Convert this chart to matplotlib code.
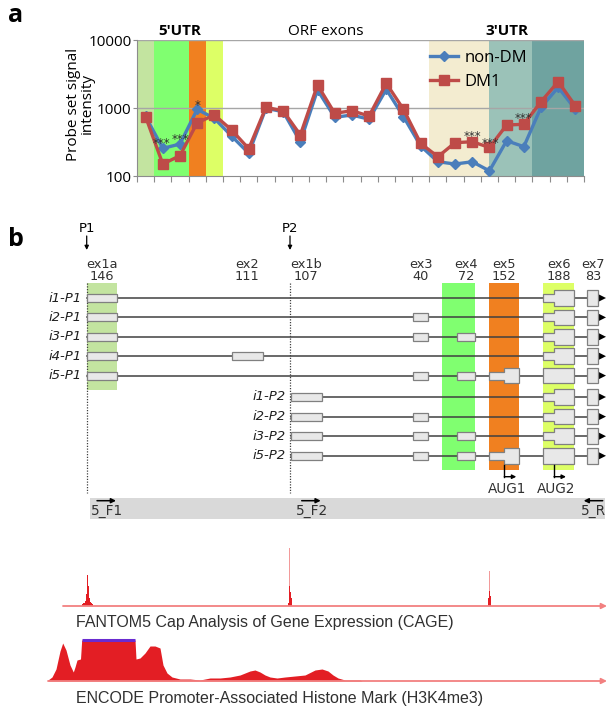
import numpy as np
import matplotlib.pyplot as plt
from matplotlib.patches import Polygon, Rectangle

# ---------------- panel a: probe set signal ----------------
probe_sets = np.arange(26)
non_dm = [750, 255, 295, 955, 705, 387, 216, 990, 883, 319, 1840, 730, 789,
          683, 1884, 746, 276, 162, 150, 162, 119, 330, 270, 1023, 2015, 955]
dm1 = [745, 150, 199, 608, 789, 475, 252, 1023, 910, 401, 2178, 836, 912,
       762, 2306, 955, 302, 192, 309, 319, 263, 562, 576, 1239, 2438, 1071]

# significance marks (probe set, height, text)
star_x = [0.95, 2.0, 3.0, 19.0, 20.05, 22.0]
star_y = [300, 345, 1100, 385, 300, 690]
star_txt = ["***", "***", "*", "***", "***", "***"]

# coloured regions (edges in probe-set units)
region_edges = [-0.5, 0.5, 2.5, 3.5, 4.5, 16.5, 20.0, 22.5, 25.5]
region_colors = ["#c3e4a0", "#80ff70", "#f08020", "#ddff66", None,
                 "#f3ecd0", "#9bc2b8", "#6fa3a0"]

# ---------------- panel b: gene structure ----------------
exon_names = ["ex1a", "ex2", "ex1b", "ex3", "ex4", "ex5", "ex6", "ex7"]
exon_len = [146, 111, 107, 40, 72, 152, 188, 83]
exon_start = [86.7, 231.7, 290.7, 413.3, 456.7, 489.3, 543.3, 587.3]
exon_end = [117.3, 262.7, 321.7, 428.3, 475.0, 519.0, 574.0, 598.3]

iso_names = ["i1-P1", "i2-P1", "i3-P1", "i4-P1", "i5-P1",
             "i1-P2", "i2-P2", "i3-P2", "i5-P2"]
iso_exons = [
    ["ex1a", "ex6", "ex7"],
    ["ex1a", "ex3", "ex6", "ex7"],
    ["ex1a", "ex3", "ex4", "ex6", "ex7"],
    ["ex1a", "ex2", "ex6", "ex7"],
    ["ex1a", "ex3", "ex4", "ex5", "ex6", "ex7"],
    ["ex1b", "ex6", "ex7"],
    ["ex1b", "ex3", "ex6", "ex7"],
    ["ex1b", "ex3", "ex4", "ex6", "ex7"],
    ["ex1b", "ex3", "ex4", "ex5", "ex6", "ex7"],
]
aug_names = ["AUG1", "AUG2"]
aug_pos = [504.3, 554.0]
promoter_names = ["P1", "P2"]
promoter_pos = [86.7, 290.0]

primer_names = ["5_F1", "5_F2", "5_R"]
primer_pos = [97.0, 301.7, 602.7]
primer_dir = [1, 1, -1]

# CAGE tag clusters
cage_x = [82, 83, 84, 85, 86, 87, 88, 89, 90, 91, 92, 288, 289, 290, 291, 488, 489, 490]
cage_h = [2, 3, 3, 5, 12, 31, 20, 8, 4, 3, 2, 3, 20, 14, 8, 8, 15, 10]
cage_spike_x = [87, 289.5, 489.3]
cage_spike_h = [81, 58, 35]

# H3K4me3 signal
h3_x = [48, 52, 56, 58, 60, 62.7, 66, 70, 73.3, 75, 77, 80.5, 81.7, 135, 136, 140,
        145, 150, 155, 160, 163, 167, 172, 180, 190, 200, 210, 220, 230, 240, 250,
        255, 260, 265, 270, 277, 285, 295, 305, 315, 322, 328, 333, 338, 345, 360,
        362, 603]
h3_h = [1, 4, 12, 21, 30, 38, 31, 16, 9, 14, 21, 22, 41, 41, 22, 23,
        28, 35, 35, 33, 16, 8, 4, 2, 2, 1, 3, 3, 4, 6, 10,
        11, 9, 6, 4, 3, 4, 5, 6, 11, 12, 10, 6, 3, 1, 1,
        0, 0]

W, H = 607, 714
fig = plt.figure(figsize=(W / 100, H / 100), dpi=100)


def px_axes(x0, y0, x1, y1, **kw):
    return fig.add_axes([x0 / W, 1 - y1 / H, (x1 - x0) / W, (y1 - y0) / H], **kw)


sans = ["Open Sans", "DejaVu Sans"]
verd = ["DejaVu Sans"]
arial = ["Liberation Sans", "DejaVu Sans"]

# background axes in pixel units for panel b
axb = fig.add_axes([0, 0, 1, 1], zorder=-1)
axb.set_xlim(0, W)
axb.set_ylim(H, 0)
axb.axis("off")

# ======== panel a ========
ax = px_axes(137, 40, 584, 176)
for i, c in enumerate(region_colors):
    if c:
        ax.axvspan(region_edges[i], region_edges[i + 1], color=c, lw=0, zorder=0)
ax.set_yscale("log")
ax.set_ylim(100, 10000)
ax.set_xlim(-0.5, 25.5)
ax.axhline(1000, color="#a6a6a6", lw=1.0, zorder=1)
ax.axhline(10000, color="#a6a6a6", lw=1.0, zorder=1)
ax.plot(probe_sets, non_dm, color="#4a7ebb", lw=2.4, marker="D", ms=5.5,
        label="non-DM", zorder=3)
ax.plot(probe_sets, dm1, color="#be4b48", lw=2.4, marker="s", ms=6.5,
        label="DM1", zorder=4)
for xs, ys, t in zip(star_x, star_y, star_txt):
    ax.text(xs, ys, t, ha="center", va="center", fontsize=8.5, color="#303030",
            family=verd, zorder=5)
ax.set_yticks([100, 1000, 10000])
ax.set_yticklabels(["100", "1000", "10000"], family=sans, fontsize=11)
ax.yaxis.set_minor_locator(plt.NullLocator())
ax.set_xticks(np.arange(-0.5, 26, 1))
ax.set_xticklabels([])
ax.tick_params(axis="x", length=4, color="#8c8c8c", direction="out")
ax.tick_params(axis="y", length=3, color="#8c8c8c", pad=1)
for s in ["top", "right"]:
    ax.spines[s].set_visible(False)
for s in ["left", "bottom"]:
    ax.spines[s].set_color("#8c8c8c")
ax.legend(loc="upper left", bbox_to_anchor=(0.655, 0.93), frameon=False,
          prop={"family": sans, "size": 12}, handlelength=1.7,
          handletextpad=0.4, labelspacing=0.5, borderpad=0, borderaxespad=0)
ax.text(2.0, 1.066, "5'UTR", transform=ax.get_xaxis_transform(), ha="center",
        va="center", fontsize=11, fontweight="bold", family=sans)
ax.text(10.5, 1.066, "ORF exons", transform=ax.get_xaxis_transform(), ha="center",
        va="center", fontsize=11, family=sans)
ax.text(21.0, 1.066, "3'UTR", transform=ax.get_xaxis_transform(), ha="center",
        va="center", fontsize=11, fontweight="bold", family=sans)
fig.text(80 / W, 1 - 104 / H, "Probe set signal\nintensity", rotation=90,
         ha="center", va="center", fontsize=11, family=sans, linespacing=0.9)
fig.text(16 / W, 1 - 16 / H, "a", fontsize=18, fontweight="bold", family=sans,
         va="center", ha="center")
fig.text(16 / W, 1 - 240 / H, "b", fontsize=18, fontweight="bold", family=sans,
         va="center", ha="center")

# ======== panel b: gene structure ========
row_y = [298 + 19.4 * i for i in range(5)] + [397 + 19.6 * i for i in range(4)]
ex = {n: (s, e) for n, s, e in zip(exon_names, exon_start, exon_end)}

# highlight bands
bands = [("ex1a", "#c3e4a0", 283, 390, 86.7), ("ex4", "#80ff70", 283, 470, 442.3),
         ("ex5", "#f08020", 283, 470, 489.3), ("ex6", "#ddff66", 283, 470, 543.3)]
for n, c, y0, y1, x0 in bands:
    axb.add_patch(Rectangle((x0, y0), ex[n][1] - x0, y1 - y0, color=c, lw=0, zorder=0))

# exon labels
for n, L, s, e in zip(exon_names, exon_len, exon_start, exon_end):
    xc = (s + e) / 2
    axb.text(xc, 264, n, ha="center", va="center", fontsize=9.3, family=verd, color="#303030")
    axb.text(xc, 277, str(L), ha="center", va="center", fontsize=9.3, family=verd, color="#303030")

# promoters
for n, p in zip(promoter_names, promoter_pos):
    axb.text(p, 229, n, ha="center", va="center", fontsize=9.5, family=verd)
    axb.annotate("", xy=(p, 250), xytext=(p, 236),
                 arrowprops=dict(arrowstyle="-|>", color="black", lw=0.9,
                                 mutation_scale=6, shrinkA=0, shrinkB=0))
    axb.plot([p, p], [283, 493], color="#404040", lw=0.9, ls=(0, (1, 1.2)), zorder=1)

thin, thick = 4.0, 7.8
for name, exs, y in zip(iso_names, iso_exons, row_y):
    cds = aug_pos[0] if "ex5" in exs else aug_pos[1]
    first = ex[exs[0]][0]
    axb.plot([first, 601], [y, y], color="#404040", lw=1.1, zorder=2)
    axb.add_patch(Polygon([(599, y - 3.5), (606, y), (599, y + 3.5)], closed=True,
                          color="black", lw=0, zorder=3))
    axb.text(first - 5, y, name, ha="right", va="center", fontsize=9.5,
             style="italic", family=verd, color="#202020")
    for n in exs:
        s, e = ex[n]
        if e <= cds:
            pts = [(s, y - thin), (e, y - thin), (e, y + thin), (s, y + thin)]
        elif s >= cds:
            pts = [(s, y - thick), (e, y - thick), (e, y + thick), (s, y + thick)]
        else:
            pts = [(s, y - thin), (cds, y - thin), (cds, y - thick), (e, y - thick),
                   (e, y + thick), (cds, y + thick), (cds, y + thin), (s, y + thin)]
        axb.add_patch(Polygon(pts, closed=True, facecolor="#e8e8e8",
                              edgecolor="#808080", lw=0.9, zorder=4))

# start codons
for n, a in zip(aug_names, aug_pos):
    axb.plot([a, a], [464.5, 476.7], color="black", lw=1.0, zorder=4)
    axb.annotate("", xy=(a + 12, 476.7), xytext=(a, 476.7),
                 arrowprops=dict(arrowstyle="-|>", color="black", lw=1.0,
                                 mutation_scale=6, shrinkA=0, shrinkB=0))
    axb.text(a + 2.5, 489, n, ha="center", va="center", fontsize=9.8, family=verd,
             color="#303030")

# primers
axb.add_patch(Rectangle((90, 498.3), 515, 21, color="#d9d9d9", lw=0, zorder=0))
for n, p, d in zip(primer_names, primer_pos, primer_dir):
    axb.annotate("", xy=(p + d * 19, 500.7), xytext=(p, 500.7),
                 arrowprops=dict(arrowstyle="-|>", color="black", lw=1.1,
                                 mutation_scale=7, shrinkA=0, shrinkB=0))
    if d > 0:
        axb.text(p - 6, 511.5, n, ha="left", va="center", fontsize=9.8, family=verd,
                 color="#303030")
    else:
        axb.text(p + 3, 511.5, n, ha="right", va="center", fontsize=9.8, family=verd,
                 color="#303030")

# ======== CAGE track ========
axc = px_axes(0, 520, W, 606)
axc.set_xlim(0, W)
axc.set_ylim(0, 86)
axc.axis("off")
axc.bar(cage_spike_x, cage_spike_h, width=0.8, color="#f29a9a", lw=0)
axc.bar(cage_x, cage_h, width=1.0, color="#e31e24", lw=0)
axc.annotate("", xy=(607, 0), xytext=(63, 0), annotation_clip=False,
             arrowprops=dict(arrowstyle="-|>", color="#f28080", lw=1.3,
                             mutation_scale=8, shrinkA=0, shrinkB=0))
axb.text(76, 623, "FANTOM5 Cap Analysis of Gene Expression (CAGE)", ha="left",
         va="center", fontsize=11.5, family=arial, color="#303030")

# ======== H3K4me3 track ========
axh = px_axes(0, 630, W, 681)
axh.set_xlim(0, W)
axh.set_ylim(0, 51)
axh.axis("off")
axh.fill_between(h3_x, 0, h3_h, color="#e31e24", lw=0)
axh.plot([81.7, 135], [41, 41], color="#6a2bd0", lw=2.2, solid_capstyle="butt")
axh.annotate("", xy=(607, 0), xytext=(48, 0), annotation_clip=False,
             arrowprops=dict(arrowstyle="-|>", color="#f28080", lw=1.3,
                             mutation_scale=8, shrinkA=0, shrinkB=0))
axb.text(76, 698, "ENCODE Promoter-Associated Histone Mark (H3K4me3)", ha="left",
         va="center", fontsize=11.5, family=arial, color="#303030")

fig.savefig("out.png", dpi=100)
